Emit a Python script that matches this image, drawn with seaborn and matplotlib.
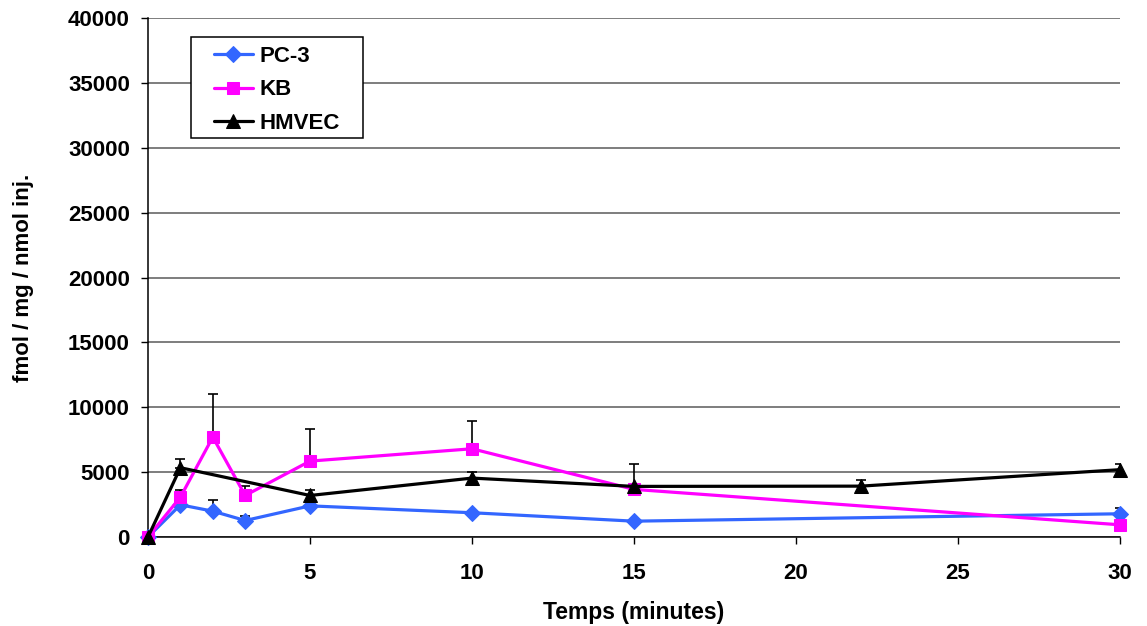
import numpy as np
import pandas as pd
import matplotlib
matplotlib.use("Agg")
import matplotlib.pyplot as plt
from matplotlib.patches import Rectangle
import seaborn as sns

# Data
pc3_x = [0, 1, 2, 3, 5, 10, 15, 30]
pc3_y = [0, 2480, 1990, 1270, 2400, 1870, 1220, 1790]
pc3_err = [0, 0, 880, 330, 0, 0, 0, 410]

kb_x = [0, 1, 2, 3, 5, 10, 15, 30]
kb_y = [0, 3070, 7700, 3200, 5850, 6800, 3670, 940]
kb_err = [0, 570, 3300, 700, 2450, 2140, 1930, 0]

hm_x = [0, 1, 5, 10, 15, 22, 30]
hm_y = [0, 5340, 3200, 4540, 3900, 3920, 5190]
hm_err = [0, 660, 390, 460, 0, 440, 410]

x_ticks = [0, 5, 10, 15, 20, 25, 30]
y_ticks = [0, 5000, 10000, 15000, 20000, 25000, 30000, 35000, 40000]

sns.set_style("white")
plt.rcParams['font.family'] = ['Liberation Sans', 'DejaVu Sans']
plt.rcParams['font.weight'] = 'bold'
plt.rcParams['text.color'] = 'black'
plt.rcParams['axes.labelcolor'] = 'black'
plt.rcParams['xtick.color'] = 'black'
plt.rcParams['ytick.color'] = 'black'

FS = 16

fig = plt.figure(figsize=(11.47, 6.26), dpi=100)
ax = fig.add_axes([148/1147, 1 - 537/626, (1120-148)/1147, (537-18)/626])

series = [
    ("PC-3", pc3_x, pc3_y, pc3_err, "#3366FF", "D", 8),
    ("KB", kb_x, kb_y, kb_err, "#FF00FF", "s", 9),
    ("HMVEC", hm_x, hm_y, hm_err, "#000000", "^", 9.5),
]

for name, xs, ys, es, col, mk, ms in series:
    e = np.array(es)
    ax.errorbar(xs, ys, yerr=[np.zeros_like(e), e], fmt="none", ecolor="black",
                elinewidth=1.2, capsize=3.5, capthick=1.2, zorder=2)

for name, xs, ys, es, col, mk, ms in series:
    df = pd.DataFrame({"x": xs, "y": ys})
    sns.lineplot(data=df, x="x", y="y", ax=ax, color=col, marker=mk,
                 markersize=ms, markeredgecolor=col, linewidth=2.3,
                 label=name, zorder=3, clip_on=False)

ax.set_xlim(0, 30)
ax.set_ylim(0, 40000)
ax.set_xticks(x_ticks)
ax.set_yticks(y_ticks)
ax.set_xticklabels([str(t) for t in x_ticks], fontsize=FS, fontweight='bold')
ax.set_yticklabels([str(t) for t in y_ticks], fontsize=FS, fontweight='bold')
ax.yaxis.grid(True, color="#5a5a5a", linewidth=1.1)
ax.xaxis.grid(False)
ax.set_axisbelow(True)
for s in ["top", "right"]:
    ax.spines[s].set_visible(False)
for s in ["left", "bottom"]:
    ax.spines[s].set_color("black")
    ax.spines[s].set_linewidth(1.1)
ax.tick_params(axis="both", direction="out", length=5, width=1, color="black",
               bottom=True, left=True)
ax.tick_params(axis="x", pad=14)
ax.tick_params(axis="y", pad=8)
ax.set_xlabel("Temps (minutes)", fontsize=16.5, fontweight='bold')
ax.set_ylabel("fmol / mg / nmol inj.", fontsize=FS, fontweight='bold')
ax.xaxis.set_label_coords(0.5, -(601 - 537) / 519)
ax.yaxis.set_label_coords((34 - 148) / 972, 0.5)

leg = ax.legend(loc="upper left", bbox_to_anchor=((214 - 148) / 972, 1 - (46 - 18) / 519),
                frameon=False, prop={'weight': 'bold', 'size': FS},
                handlelength=1.75, borderpad=0, labelspacing=0.56,
                handletextpad=0.3, borderaxespad=0)
ax.add_patch(Rectangle(((191 - 148) / 972, 1 - (138 - 18) / 519), 172 / 972, 101 / 519,
                       transform=ax.transAxes, facecolor="white", edgecolor="black",
                       linewidth=1.1, zorder=4, clip_on=False))
leg.set_zorder(5)

fig.savefig("out.png", dpi=100)
